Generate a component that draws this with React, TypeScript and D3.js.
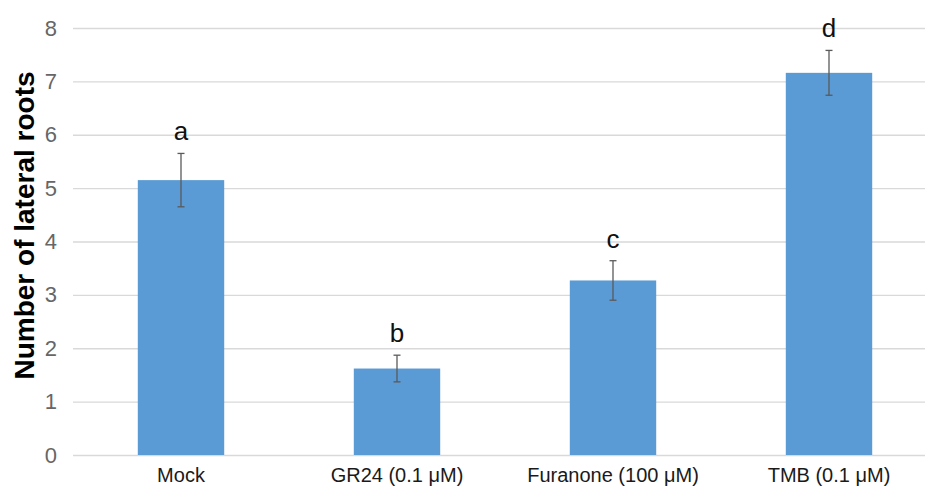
import React, { useEffect, useRef } from 'react';
import * as d3 from 'd3';

const categories = ['Mock', 'GR24 (0.1 μM)', 'Furanone (100 μM)', 'TMB (0.1 μM)'];
const means = [5.15, 1.62, 3.27, 7.16];
const errors = [0.5, 0.25, 0.37, 0.42];
const letters = ['a', 'b', 'c', 'd'];
const yTicks = [0, 1, 2, 3, 4, 5, 6, 7, 8];

export default function App() {
  const ref = useRef<SVGSVGElement>(null);
  const width = 925,
    height = 486;
  const margin = { top: 28, bottom: 31, left: 73 };

  useEffect(() => {
    const svg = d3.select(ref.current);
    svg.selectAll('*').remove();

    const data = categories.map((c, i) => ({
      cat: c,
      value: means[i],
      err: errors[i],
      letter: letters[i],
    }));

    const x = d3
      .scaleBand()
      .domain(categories)
      .range([margin.left, 937])
      .paddingInner(0.6)
      .paddingOuter(0.3);

    const y = d3
      .scaleLinear()
      .domain([0, 8])
      .range([height - margin.bottom, margin.top]);

    // gridlines + y tick labels
    const yAxis = svg
      .append('g')
      .attr('transform', `translate(${margin.left},0)`)
      .call(
        d3
          .axisLeft(y)
          .tickValues(yTicks)
          .tickSize(-(width - margin.left))
          .tickPadding(16)
          .tickFormat(d3.format('d'))
      );
    yAxis.select('.domain').remove();
    yAxis.selectAll('.tick line').attr('stroke', '#d9d9d9').attr('stroke-width', 1.3);
    yAxis
      .selectAll('.tick text')
      .attr('fill', '#666')
      .attr('font-size', 22)
      .attr('font-family', 'Liberation Sans, Arial, sans-serif');

    // bars
    svg
      .append('g')
      .selectAll('rect')
      .data(data)
      .join('rect')
      .attr('x', (d) => x(d.cat)!)
      .attr('width', x.bandwidth())
      .attr('y', (d) => y(d.value))
      .attr('height', (d) => y(0) - y(d.value))
      .attr('fill', '#5b9bd5');

    // error bars
    const eb = svg.append('g').attr('stroke', '#5a5a5a').attr('stroke-width', 1.3);
    data.forEach((d) => {
      const cx = x(d.cat)! + x.bandwidth() / 2;
      eb.append('line')
        .attr('x1', cx)
        .attr('x2', cx)
        .attr('y1', y(d.value + d.err))
        .attr('y2', y(d.value - d.err));
      [d.value + d.err, d.value - d.err].forEach((v) => {
        eb.append('line')
          .attr('x1', cx - 3.5)
          .attr('x2', cx + 3.5)
          .attr('y1', y(v))
          .attr('y2', y(v));
      });
    });

    // significance letters
    svg
      .append('g')
      .selectAll('text')
      .data(data)
      .join('text')
      .attr('x', (d) => x(d.cat)! + x.bandwidth() / 2)
      .attr('y', (d) => y(d.value + d.err) - 13)
      .attr('text-anchor', 'middle')
      .attr('font-size', 26)
      .attr('font-family', 'Liberation Sans, Arial, sans-serif')
      .attr('fill', '#111')
      .text((d) => d.letter);

    // category labels
    svg
      .append('g')
      .selectAll('text')
      .data(data)
      .join('text')
      .attr('x', (d) => x(d.cat)! + x.bandwidth() / 2)
      .attr('y', 482)
      .attr('text-anchor', 'middle')
      .attr('font-size', 20)
      .attr('font-family', 'Liberation Sans, Arial, sans-serif')
      .attr('fill', '#1a1a1a')
      .text((d) => d.cat);

    // y title
    svg
      .append('text')
      .attr('transform', `translate(34,${(y(0) + y(8)) / 2 - 16}) rotate(-90)`)
      .attr('text-anchor', 'middle')
      .attr('font-size', 28)
      .attr('font-weight', 'bold')
      .attr('font-family', 'Liberation Sans, Arial, sans-serif')
      .attr('fill', '#000')
      .text('Number of lateral roots');
  }, []);

  return (
    <svg
      ref={ref}
      width={width}
      height={height}
      viewBox={`0 0 ${width} ${height}`}
      style={{ position: 'absolute', left: 0, top: 0, background: '#fff', overflow: 'hidden' }}
    />
  );
}
